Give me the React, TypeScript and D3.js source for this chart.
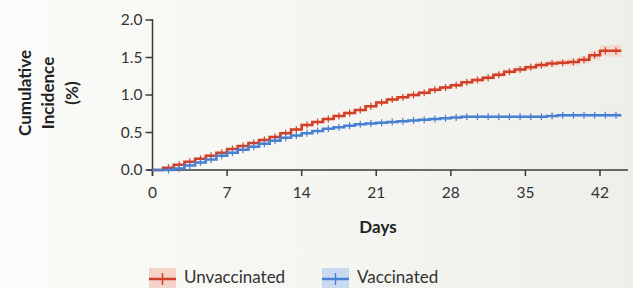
import * as React from 'react';
import { scaleLinear, line, area, curveStepAfter } from 'd3';

// days since start, one step per day
const days = [0, 1, 2, 3, 4, 5, 6, 7, 8, 9, 10, 11, 12, 13, 14, 15, 16, 17, 18, 19, 20, 21,
    22, 23, 24, 25, 26, 27, 28, 29, 30, 31, 32, 33, 34, 35, 36, 37, 38, 39, 40, 41, 42, 43, 44];

// cumulative incidence (%)
const unvaccinated = [0, 0.03, 0.07, 0.11, 0.15, 0.19, 0.23, 0.28, 0.32, 0.36, 0.40, 0.44, 0.49, 0.54,
    0.60, 0.64, 0.68, 0.72, 0.76, 0.80, 0.85, 0.90, 0.94, 0.97, 1.00, 1.03, 1.07, 1.10, 1.13, 1.17,
    1.20, 1.23, 1.27, 1.31, 1.34, 1.37, 1.40, 1.42, 1.43, 1.44, 1.47, 1.53, 1.59, 1.59, 1.59];
const vaccinated = [0, 0, 0.02, 0.06, 0.10, 0.14, 0.19, 0.23, 0.27, 0.31, 0.35, 0.39, 0.43, 0.46,
    0.49, 0.52, 0.55, 0.57, 0.59, 0.61, 0.62, 0.63, 0.64, 0.65, 0.66, 0.67, 0.68, 0.69, 0.70, 0.71,
    0.71, 0.71, 0.71, 0.71, 0.71, 0.71, 0.71, 0.72, 0.73, 0.73, 0.73, 0.73, 0.73, 0.73, 0.73];

// half-width of the 95% band
const unvaccinatedCI = [0, 0.01, 0.01, 0.01, 0.01, 0.01, 0.015, 0.015, 0.015, 0.015, 0.02, 0.02, 0.02,
    0.02, 0.02, 0.02, 0.02, 0.02, 0.02, 0.02, 0.02, 0.025, 0.025, 0.025, 0.025, 0.025, 0.025, 0.025,
    0.025, 0.025, 0.03, 0.03, 0.03, 0.03, 0.03, 0.035, 0.035, 0.04, 0.04, 0.045, 0.05, 0.06, 0.07, 0.08, 0.08];
const vaccinatedCI = [0, 0, 0.01, 0.01, 0.01, 0.01, 0.01, 0.015, 0.015, 0.015, 0.015, 0.015, 0.015,
    0.015, 0.015, 0.015, 0.015, 0.015, 0.015, 0.015, 0.015, 0.015, 0.015, 0.015, 0.015, 0.015, 0.015,
    0.015, 0.015, 0.015, 0.015, 0.015, 0.015, 0.015, 0.015, 0.015, 0.015, 0.015, 0.02, 0.02, 0.02,
    0.02, 0.02, 0.02, 0.02];

const xTicks = [0, 7, 14, 21, 28, 35, 42];
const yTicks = [0, 0.5, 1.0, 1.5, 2.0];

const RED = '#d03f26';
const RED_BAND = '#f6d3c8';
const BLUE = '#4a80d2';
const BLUE_BAND = '#c9d9f1';
const AXIS = '#3a3a3a';
const FONT = "'Lato', 'Open Sans', sans-serif";

type Pt = [number, number, number];

export default function App(): JSX.Element {
    const x = scaleLinear().domain([0, 42]).range([152.5, 600]);
    const y = scaleLinear().domain([0, 2]).range([170, 20]);

    const series = [
        { name: 'Unvaccinated', values: unvaccinated, ci: unvaccinatedCI, color: RED, band: RED_BAND },
        { name: 'Vaccinated', values: vaccinated, ci: vaccinatedCI, color: BLUE, band: BLUE_BAND },
    ];

    const stepLine = line<Pt>()
        .x(d => x(d[0]))
        .y(d => y(d[1]))
        .curve(curveStepAfter);
    const band = area<Pt>()
        .x(d => x(d[0]))
        .y0(d => y(Math.max(0, d[1] - d[2])))
        .y1(d => y(d[1] + d[2]))
        .curve(curveStepAfter);

    return (
        <svg width={633} height={288} style={{ position: 'absolute', left: 0, top: 0 }}>
            <defs>
                <linearGradient id="bg" x1="0" x2="1" y1="0" y2="0">
                    <stop offset="0" stopColor="#fbfbf9" />
                    <stop offset="1" stopColor="#efefea" />
                </linearGradient>
            </defs>
            <rect width={633} height={288} fill="url(#bg)" />

            {/* y axis title */}
            <g transform="translate(38,93) rotate(-90)" fontFamily={FONT} fontWeight="bold" fontSize={17}
                fill="#222" textAnchor="middle">
                <text y={-7}>Cumulative</text>
                <text y={16}>Incidence</text>
                <text y={40}>(%)</text>
            </g>

            {/* bands */}
            {series.map(s => {
                const pts: Pt[] = days.map((d, i) => [d, s.values[i], s.ci[i]]);
                return <path key={s.name + 'b'} d={band(pts) || ''} fill={s.band} opacity={0.85} />;
            })}

            {/* axes */}
            <g stroke={AXIS} strokeWidth={1.5} fill="none">
                <line x1={x(0)} x2={x(0)} y1={y(2) - 1} y2={y(0) + 6} />
                <line x1={x(0) - 5} x2={628} y1={y(0)} y2={y(0)} />
                {yTicks.map(t => (
                    <line key={'yt' + t} x1={x(0) - 7} x2={x(0)} y1={y(t)} y2={y(t)} />
                ))}
                {xTicks.map(t => (
                    <line key={'xt' + t} x1={x(t)} x2={x(t)} y1={y(0)} y2={y(0) + 6} />
                ))}
            </g>
            <g fontFamily={FONT} fontSize={15.5} fill="#333">
                {yTicks.map(t => (
                    <text key={'yl' + t} x={x(0) - 10} y={y(t)} dy="0.35em" textAnchor="end">{t.toFixed(1)}</text>
                ))}
                {xTicks.map(t => (
                    <text key={'xl' + t} x={x(t)} y={198} textAnchor="middle">{t}</text>
                ))}
            </g>
            <text x={378} y={233} textAnchor="middle" fontFamily={FONT} fontWeight="bold" fontSize={17} fill="#222">
                Days
            </text>

            {/* step lines with censor marks */}
            {series.map(s => {
                const pts: Pt[] = days.map((d, i) => [d, s.values[i], 0]);
                return (
                    <g key={s.name}>
                        <path d={stepLine(pts) || ''} fill="none" stroke={s.color} strokeWidth={2.6} />
                        {days.slice(1, -1).map((d, i) => (
                            <line key={d} x1={x(d + 0.5)} x2={x(d + 0.5)}
                                y1={y(s.values[i + 1]) - 3.5} y2={y(s.values[i + 1]) + 3.5}
                                stroke={s.color} strokeWidth={1.2} />
                        ))}
                    </g>
                );
            })}

            {/* legend */}
            {series.map((s, i) => {
                const lx = i === 0 ? 149 : 322;
                return (
                    <g key={s.name + 'l'} transform={`translate(${lx},268)`}>
                        <rect width={27} height={20} fill={s.band} />
                        <line x1={0} x2={27} y1={11} y2={11} stroke={s.color} strokeWidth={2.5} />
                        <line x1={13.5} x2={13.5} y1={5} y2={17} stroke={s.color} strokeWidth={1.5} />
                        <text x={35} y={15} fontFamily={FONT} fontSize={17} fill="#333">{s.name}</text>
                    </g>
                );
            })}
        </svg>
    );
}
